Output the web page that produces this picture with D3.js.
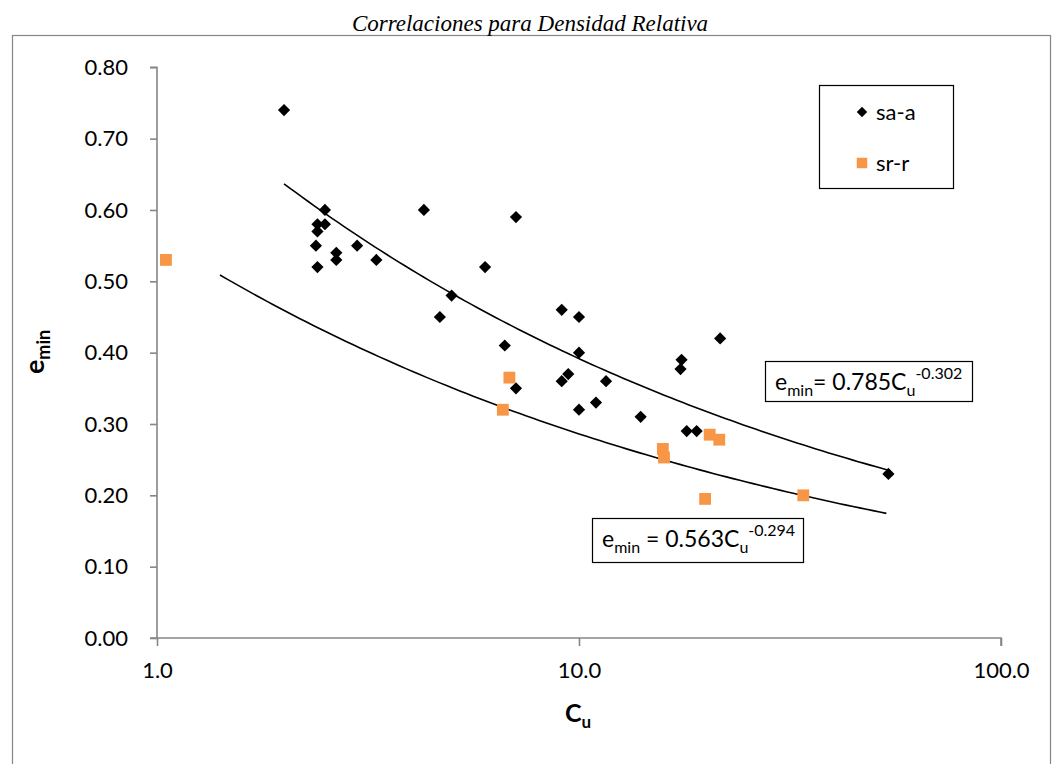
<!DOCTYPE html>
<html>
<head>
<meta charset="utf-8">
<script src="https://cdn.jsdelivr.net/npm/d3@7"></script>
<style>
  body { margin: 0; background: #fff; }
  text { font-family: Lato, "Open Sans", sans-serif; }
</style>
</head>
<body>
<svg id="chart" width="1058" height="764"></svg>
<script>
// Uniformity coefficient Cu and minimum void ratio for two soil groups
const saaCu = [2.00, 2.50, 4.29, 2.40, 2.50, 2.40, 2.38, 2.40, 2.66, 2.66, 2.98, 3.31,
               7.09, 5.99, 4.99, 4.68, 9.10, 10.0, 6.67, 10.0, 9.43, 9.10, 7.09, 11.59,
               10.97, 10.0, 14.0, 21.6, 17.5, 17.4, 18.0, 19.0, 54.1];
const saaE  = [0.74, 0.60, 0.60, 0.58, 0.58, 0.57, 0.55, 0.52, 0.54, 0.53, 0.55, 0.53,
               0.59, 0.52, 0.48, 0.45, 0.46, 0.45, 0.41, 0.40, 0.37, 0.36, 0.35, 0.36,
               0.33, 0.32, 0.31, 0.42, 0.39, 0.377, 0.29, 0.29, 0.23];
const srrCu = [1.05, 6.84, 6.60, 15.8, 15.9, 20.4, 21.5, 19.9, 34.0];
const srrE  = [0.53, 0.365, 0.32, 0.265, 0.253, 0.285, 0.278, 0.195, 0.20];

const seriesNames = ["sa-a", "sr-r"];
const yTicks = [0, 0.1, 0.2, 0.3, 0.4, 0.5, 0.6, 0.7, 0.8];
const xTicks = [1, 10, 100];

// Power-law fits e = a * Cu^b
const fitCoef = [0.785, 0.563];
const fitExp  = [-0.302, -0.294];
const fitFrom = [2.0, 1.41];
const fitTo   = [54.1, 53.5];

const svg = d3.select("#chart");
const axisColor = "#868686";
const orange = "#F79646";

const x = d3.scaleLog().domain([1, 100]).range([157, 1001]);
const y = d3.scaleLinear().domain([0, 0.8]).range([638, 67.3]);

// outer chart frame
svg.append("rect")
  .attr("x", 12.5).attr("y", 35.5)
  .attr("width", 1038).attr("height", 760)
  .attr("fill", "none").attr("stroke", axisColor).attr("stroke-width", 1.2);

// title
svg.append("text")
  .attr("x", 530).attr("y", 31)
  .attr("text-anchor", "middle")
  .style("font-family", "'Liberation Serif', 'Times New Roman', serif")
  .style("font-style", "italic")
  .style("font-size", "23px")
  .text("Correlaciones para Densidad Relativa");

// y axis
const yAxis = svg.append("g")
  .attr("transform", `translate(${x(1)},0)`)
  .call(d3.axisLeft(y).tickValues(yTicks).tickFormat(d3.format(".2f"))
        .tickSize(7).tickPadding(22));
// x axis
const xAxis = svg.append("g")
  .attr("transform", `translate(0,${y(0)})`)
  .call(d3.axisBottom(x).tickValues(xTicks).tickFormat(d3.format(".1f"))
        .tickSize(8).tickPadding(16));

[yAxis, xAxis].forEach(g => {
  g.select(".domain").attr("stroke", axisColor).attr("stroke-width", 1.6);
  g.selectAll(".tick line").attr("stroke", axisColor).attr("stroke-width", 1.6);
  g.selectAll(".tick text")
    .style("font-family", "Lato, sans-serif")
    .style("font-size", "22px").attr("fill", "#000");
});
// axes cross at the origin
xAxis.select(".domain").attr("d", `M${x(1) - 7},0H${x(100)}V8`);
yAxis.select(".domain").attr("d", `M-7,${y(0.8)}H0V${y(0)}`);

// axis titles
const yTitle = svg.append("text")
  .attr("transform", `translate(44,352) rotate(-90)`)
  .attr("text-anchor", "middle")
  .style("font-weight", "bold");
yTitle.append("tspan").style("font-size", "27px").text("e");
yTitle.append("tspan").style("font-size", "18px").attr("dy", 6).text("min");

const xTitle = svg.append("text")
  .attr("x", 578).attr("y", 722)
  .attr("text-anchor", "middle")
  .style("font-weight", "bold");
xTitle.append("tspan").style("font-size", "25px").text("C");
xTitle.append("tspan").style("font-size", "17px").attr("dy", 6).text("u");

// trend curves
const line = d3.line().x(d => x(d[0])).y(d => y(d[1]));
fitCoef.forEach((a, i) => {
  const lo = Math.log10(fitFrom[i]), hi = Math.log10(fitTo[i]);
  const pts = d3.range(0, 101).map(k => {
    const cu = Math.pow(10, lo + (hi - lo) * k / 100);
    return [cu, a * Math.pow(cu, fitExp[i])];
  });
  svg.append("path").attr("d", line(pts))
    .attr("fill", "none").attr("stroke", "#000").attr("stroke-width", 1.6);
});

// markers
const diamond = d3.symbol().type(d3.symbolDiamond2).size(95);
const square = d3.symbol().type(d3.symbolSquare).size(140);

svg.append("g").selectAll("path")
  .data(d3.zip(saaCu, saaE))
  .join("path")
  .attr("transform", d => `translate(${x(d[0])},${y(d[1])})`)
  .attr("d", diamond)
  .attr("fill", "#000");

svg.append("g").selectAll("path")
  .data(d3.zip(srrCu, srrE))
  .join("path")
  .attr("transform", d => `translate(${x(d[0])},${y(d[1])})`)
  .attr("d", square)
  .attr("fill", orange);

// legend
const lg = svg.append("g");
lg.append("rect").attr("x", 819.5).attr("y", 85.5).attr("width", 134).attr("height", 103)
  .attr("fill", "#fff").attr("stroke", "#000").attr("stroke-width", 1.2);
lg.append("path").attr("transform", "translate(862,112)")
  .attr("d", d3.symbol().type(d3.symbolDiamond2).size(70)).attr("fill", "#000");
lg.append("path").attr("transform", "translate(862,163)")
  .attr("d", d3.symbol().type(d3.symbolSquare).size(110)).attr("fill", orange);
seriesNames.forEach((n, i) => {
  lg.append("text").attr("x", 876).attr("y", i === 0 ? 120 : 171)
    .style("font-size", "22px").text(n);
});

// equation labels
function equation(bx, by, bw, bh, a, b, gap) {
  svg.append("rect").attr("x", bx + 0.5).attr("y", by + 0.5).attr("width", bw).attr("height", bh)
    .attr("fill", "#fff").attr("stroke", "#000").attr("stroke-width", 1.2);
  const t = svg.append("text").attr("x", bx + 10).attr("y", by + 29).style("font-size", "23px");
  t.append("tspan").text("e");
  t.append("tspan").style("font-size", "16px").attr("dy", 6).text("min");
  t.append("tspan").attr("dy", -6).text(gap + "= " + a.toFixed(3) + "C");
  t.append("tspan").style("font-size", "16px").attr("dy", 6).text("u");
  t.append("tspan").style("font-size", "16px").attr("dy", -17).text(b.toFixed(3));
}
equation(765, 361, 207, 40, fitCoef[0], fitExp[0], "");
equation(592, 518, 211, 44, fitCoef[1], fitExp[1], " ");
</script>
</body>
</html>
